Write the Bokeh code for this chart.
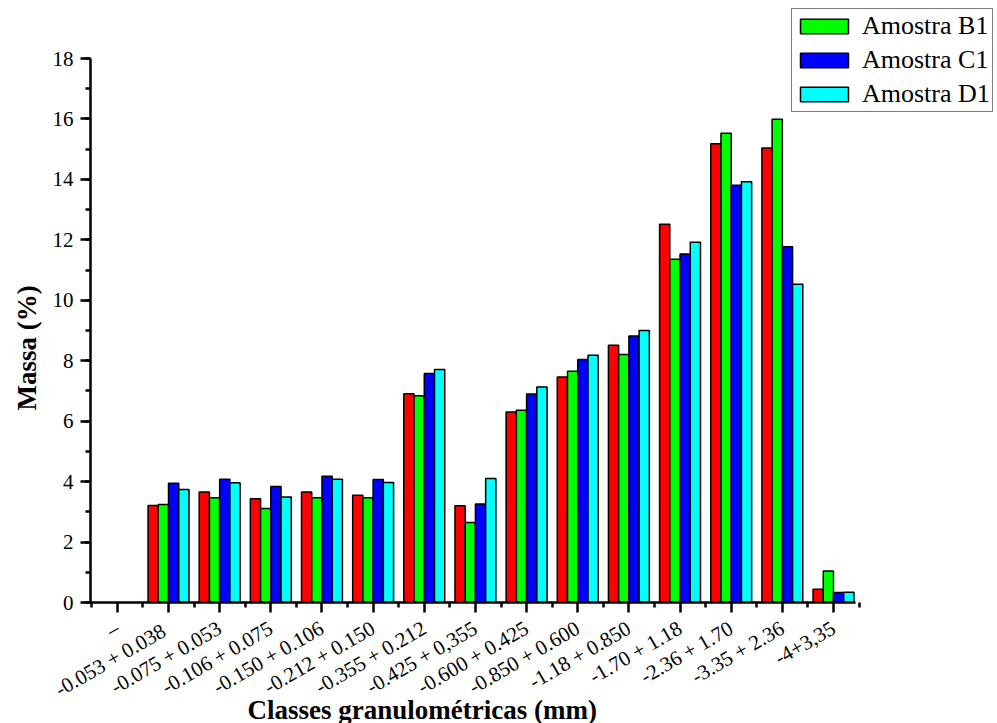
import math

from bokeh.embed import file_html
from bokeh.resources import INLINE
from bokeh.plotting import figure
from bokeh.models import (ColumnDataSource, FixedTicker, SingleIntervalTicker,
                          Legend, LegendItem, Title, Range1d)

# Size classes (mm) and retained mass (%) for each sample
classes = ["–", "-0.053 +  0.038", "-0.075 + 0.053", "-0.106 + 0.075",
           "-0.150 + 0.106", "-0.212 + 0.150", "-0.355 + 0.212",
           "-0.425 + 0,355", "-0.600 + 0.425", "-0.850 + 0.600",
           "-1.18 + 0.850", "-1.70 + 1.18", "-2.36 + 1.70",
           "-3.35 + 2.36", "-4+3,35"]
nan = float("nan")
amostra_a1 = [nan, 3.21, 3.66, 3.43, 3.66, 3.55, 6.91, 3.20, 6.30, 7.46, 8.51, 12.52, 15.18, 15.04, 0.44]
amostra_b1 = [nan, 3.24, 3.47, 3.11, 3.47, 3.47, 6.84, 2.65, 6.36, 7.65, 8.21, 11.36, 15.53, 15.99, 1.04]
amostra_c1 = [nan, 3.95, 4.08, 3.84, 4.18, 4.07, 7.58, 3.26, 6.90, 8.04, 8.82, 11.53, 13.81, 11.77, 0.33]
amostra_d1 = [nan, 3.74, 3.96, 3.49, 4.08, 3.97, 7.71, 4.10, 7.13, 8.18, 9.00, 11.92, 13.92, 10.53, 0.34]

series = [
    ("Amostra A1", amostra_a1, "#ff0000", -0.3, False),
    ("Amostra B1", amostra_b1, "#00ff00", -0.1, True),
    ("Amostra C1", amostra_c1, "#0000ff", 0.1, True),
    ("Amostra D1", amostra_d1, "#00ffff", 0.3, True),
]

FONT = "Liberation Serif"

# The plotting area reaches the top and right edges so the legend can sit
# there; the axes themselves are limited with bounds.
p = figure(width=997, height=723, output_backend="svg", toolbar_location=None,
           x_range=Range1d(-0.525, 17.206), y_range=Range1d(0, 19.92),
           min_border_left=90, min_border_right=0,
           min_border_top=0, min_border_bottom=121)
p.outline_line_color = None
p.xgrid.visible = False
p.ygrid.visible = False
p.background_fill_color = "white"
p.border_fill_color = "white"

idx = list(range(len(classes)))
legend_items = []
for name, vals, color, off, in_legend in series:
    src = ColumnDataSource(dict(x=[i + off for i in idx], top=vals))
    r = p.vbar(x="x", top="top", bottom=0, width=0.2, source=src,
               fill_color=color, line_color="black", line_width=1.5)
    if in_legend:
        legend_items.append(LegendItem(label=name, renderers=[r]))

# x axis: one major tick per class, minor ticks between classes
p.xaxis.ticker = FixedTicker(ticks=idx, minor_ticks=[i + 0.5 for i in range(-1, len(classes))])
p.xaxis.major_label_overrides = {i: c for i, c in enumerate(classes)}
p.xaxis.major_label_orientation = math.pi / 6
p.xaxis.major_label_standoff = 14
p.xaxis.bounds = (-0.525, 14.43)

p.yaxis.ticker = SingleIntervalTicker(interval=2, num_minor_ticks=2)
p.yaxis.major_label_standoff = 7
p.yaxis.bounds = (0, 18)

for ax in (p.xaxis[0], p.yaxis[0]):
    ax.axis_line_width = 2.5
    ax.axis_line_color = "black"
    ax.major_tick_line_width = 2.5
    ax.minor_tick_line_width = 2.5
    ax.major_tick_line_color = "black"
    ax.minor_tick_line_color = "black"
    ax.major_tick_out = 10
    ax.major_tick_in = 0
    ax.minor_tick_out = 5
    ax.minor_tick_in = 0
    ax.major_label_text_font = FONT
    ax.major_label_text_font_size = "21px"
    ax.major_label_text_color = "black"

# axis titles
xtitle = Title(text="Classes granulométricas (mm)", align="left", offset=157,
               vertical_align="top", standoff=-40,
               text_font=FONT, text_font_size="27px", text_font_style="bold",
               text_color="black")
p.add_layout(xtitle, "below")
ytitle = Title(text="Massa (%)", align="left", offset=192,
               vertical_align="bottom", standoff=16,
               text_font=FONT, text_font_size="27px", text_font_style="bold",
               text_color="black")
p.add_layout(ytitle, "left")

legend = Legend(items=legend_items, location=(701, 490),
                label_text_font=FONT, label_text_font_size="26px",
                label_text_color="black",
                glyph_width=60, glyph_height=18, label_height=30,
                label_standoff=8, spacing=4, padding=2, margin=0,
                border_line_color="black", border_line_width=1.5,
                background_fill_alpha=1.0)
p.add_layout(legend)

open("out.html", "w").write(file_html(p, INLINE))
